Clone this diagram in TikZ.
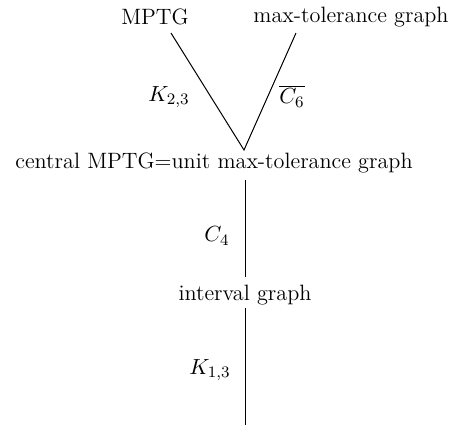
\documentclass[tikz,border=0pt]{standalone}
\begin{document}
\begin{tikzpicture}[x=0.5pt,y=-0.5pt,
  every node/.style={font=\fontsize{11.1}{13}\selectfont},
  lbl/.style={inner sep=0pt},
  txt/.style={inner sep=0pt},
  edge/.style={line width=0.5pt}]
\useasboundingbox (0,0) rectangle (461,430);
\node[txt] (mptg) at (155,17) {MPTG};
\node[txt] (maxt) at (351,17) {max-tolerance graph};
\node[txt] (central) at (214,163) {central MPTG=unit max-tolerance graph};
\node[txt] (interval) at (245,295) {interval graph};
\coordinate (a1) at (171,33);
\coordinate (b1) at (296,33);
\coordinate (v) at (244,150);
\coordinate (c1) at (245,180);
\coordinate (c2) at (245,277);
\coordinate (d1) at (245,308);
\coordinate (d2) at (245,425);
\draw[edge] (a1) -- (v) -- (b1);
\draw[edge] (c1) -- (c2);
\draw[edge] (d1) -- (d2);
\node[lbl] (k23) at (169,97) {$K_{2,3}$};
\node[lbl] (c6) at (292,96) {$\overline{C_6}$};
\node[lbl] (c4) at (217,236) {$C_4$};
\node[lbl] (k13) at (210,370) {$K_{1,3}$};
\end{tikzpicture}
\end{document}
